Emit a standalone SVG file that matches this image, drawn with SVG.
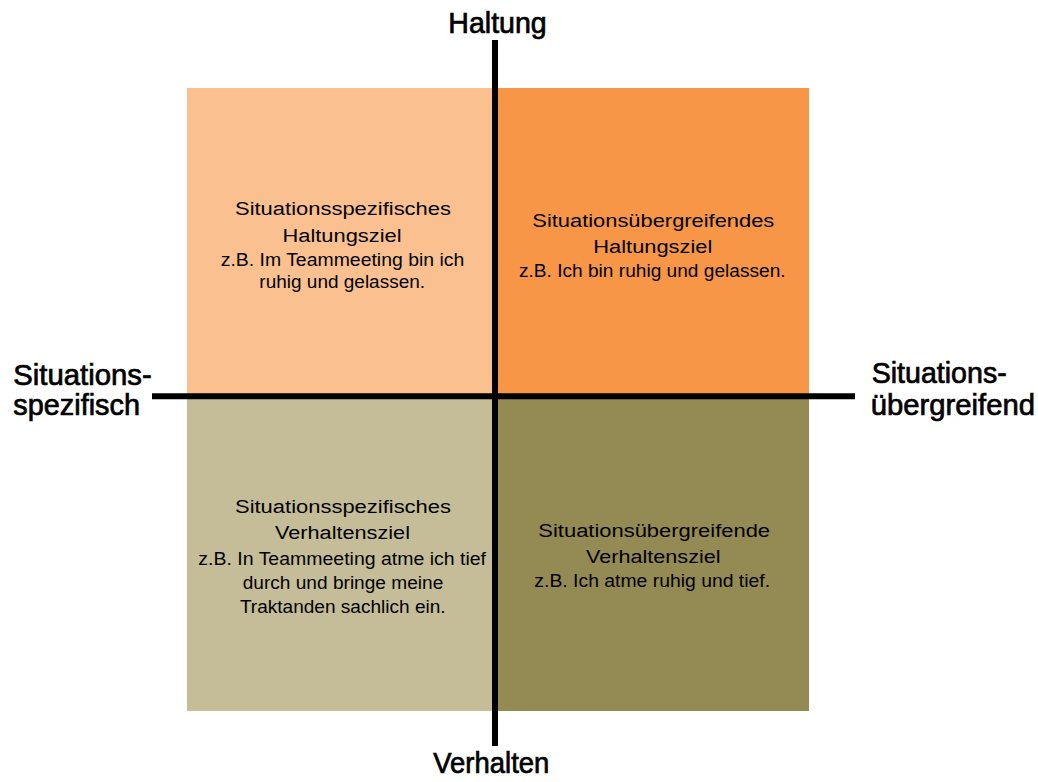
<svg xmlns="http://www.w3.org/2000/svg" width="1038" height="782" viewBox="0 0 1038 782">
<style>
  .q { font-family: "Liberation Sans", Arial, sans-serif; fill: #000; text-anchor: middle; }
  .t { font-size: 18.8px; }
  .e { font-size: 17.5px; }
  .ax { font-family: "Liberation Sans", Arial, sans-serif; font-size: 29px; fill: #000; stroke: #000; stroke-width: 0.7px; }
  .axis { stroke: #000; stroke-width: 6; fill: none; }
</style>
<rect width="1038" height="782" fill="#fff"/>
<g id="q-tl">
  <rect x="187" y="88" width="308" height="308" fill="#FAC090"/>
  <text class="q t" x="343" y="215" textLength="216" lengthAdjust="spacingAndGlyphs">Situationsspezifisches</text>
  <text class="q t" x="342" y="241.7" textLength="119" lengthAdjust="spacingAndGlyphs">Haltungsziel</text>
  <text class="q e" x="342.5" y="266" textLength="243.6" lengthAdjust="spacingAndGlyphs">z.B. Im Teammeeting bin ich</text>
  <text class="q e" x="342.2" y="288.3" textLength="165.7" lengthAdjust="spacingAndGlyphs">ruhig und gelassen.</text>
</g>
<g id="q-tr">
  <rect x="495" y="88" width="314" height="308" fill="#F79646"/>
  <text class="q t" x="653.3" y="226.7" textLength="242" lengthAdjust="spacingAndGlyphs">Situationsübergreifendes</text>
  <text class="q t" x="652.8" y="253.3" textLength="119" lengthAdjust="spacingAndGlyphs">Haltungsziel</text>
  <text class="q e" x="652.3" y="277.3" textLength="266.7" lengthAdjust="spacingAndGlyphs">z.B. Ich bin ruhig und gelassen.</text>
</g>
<g id="q-bl">
  <rect x="187" y="396" width="308" height="315" fill="#C4BD97"/>
  <text class="q t" x="343" y="513.3" textLength="216" lengthAdjust="spacingAndGlyphs">Situationsspezifisches</text>
  <text class="q t" x="342.5" y="539.3" textLength="135" lengthAdjust="spacingAndGlyphs">Verhaltensziel</text>
  <text class="q e" x="342.2" y="565" textLength="287.7" lengthAdjust="spacingAndGlyphs">z.B. In Teammeeting atme ich tief</text>
  <text class="q e" x="343" y="589.3" textLength="200.6" lengthAdjust="spacingAndGlyphs">durch und bringe meine</text>
  <text class="q e" x="342.8" y="612.7" textLength="205.7" lengthAdjust="spacingAndGlyphs">Traktanden sachlich ein.</text>
</g>
<g id="q-br">
  <rect x="495" y="396" width="314" height="315" fill="#948A54"/>
  <text class="q t" x="654.2" y="536.7" textLength="231.7" lengthAdjust="spacingAndGlyphs">Situationsübergreifende</text>
  <text class="q t" x="653.3" y="563.3" textLength="134.7" lengthAdjust="spacingAndGlyphs">Verhaltensziel</text>
  <text class="q e" x="652.2" y="587.3" textLength="235.7" lengthAdjust="spacingAndGlyphs">z.B. Ich atme ruhig und tief.</text>
</g>
<g id="connectors">
  <line class="axis" x1="495" y1="40" x2="495" y2="746"/>
  <line class="axis" x1="152" y1="396.2" x2="855" y2="396.2"/>
</g>
<g id="label-top">
  <text class="ax" x="448.3" y="33.3" textLength="98.4" lengthAdjust="spacingAndGlyphs">Haltung</text>
</g>
<g id="label-bottom">
  <text class="ax" x="433.3" y="773.3" textLength="116" lengthAdjust="spacingAndGlyphs">Verhalten</text>
</g>
<g id="label-left">
  <text class="ax" x="13.3" y="385" textLength="138.4" lengthAdjust="spacingAndGlyphs">Situations-</text>
  <text class="ax" x="13.3" y="415" textLength="126.7" lengthAdjust="spacingAndGlyphs">spezifisch</text>
</g>
<g id="label-right">
  <text class="ax" x="871.7" y="383.3" textLength="135" lengthAdjust="spacingAndGlyphs">Situations-</text>
  <text class="ax" x="870.7" y="415" textLength="164.3" lengthAdjust="spacingAndGlyphs">übergreifend</text>
</g>
</svg>
